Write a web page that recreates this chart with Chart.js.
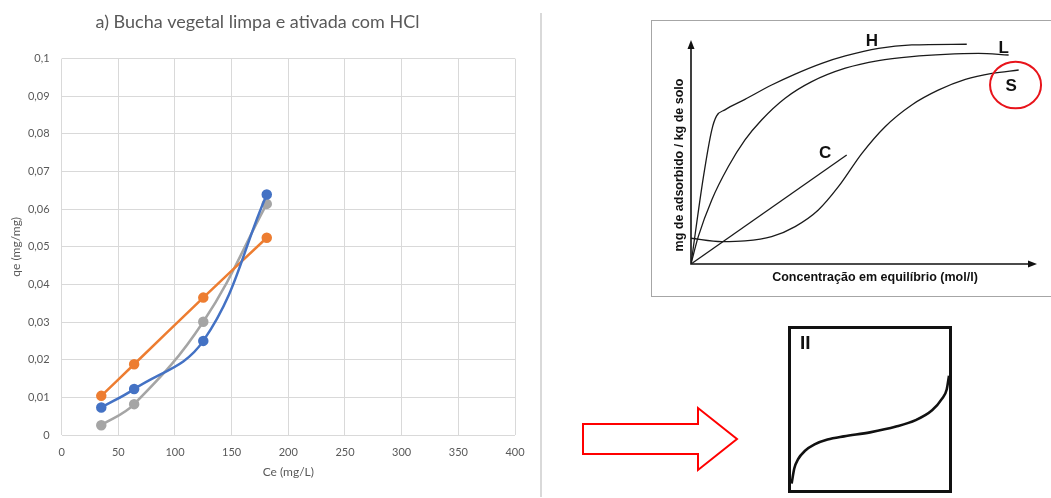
<!DOCTYPE html>
<html>
<head>
<meta charset="utf-8">
<script src="https://cdn.jsdelivr.net/npm/chart.js@4.4.1/dist/chart.umd.min.js"></script>
<style>
  body { margin: 0; background: #fff; }
  #page { position: relative; width: 1051px; height: 498px; overflow: hidden; }
  .box { position: absolute; }
  #main { left: 0; top: 0; width: 540px; height: 498px; }
  #sep { left: 540px; top: 13px; width: 2px; height: 484px; background: #d9d9d9; }
  #iso { left: 651px; top: 20px; width: 400px; height: 275px; border: 1px solid #a6a6a6; border-right: none; }
  #inset { left: 788px; top: 326px; width: 158px; height: 161px; border: 3px solid #111; }
  #arrow { left: 0; top: 0; }
</style>
</head>
<body>
<div id="page">
  <div class="box" id="main"><canvas id="qeChart"></canvas></div>
  <div class="box" id="sep"></div>
  <div class="box" id="iso"><canvas id="isoChart"></canvas></div>
  <svg class="box" id="arrow" width="1051" height="498">
    <polygon points="583,424 698,424 698,408 737,439 698,470 698,454 583,454"
             fill="#fff" stroke="#ff0000" stroke-width="2" />
  </svg>
  <div class="box" id="inset"><canvas id="insetChart"></canvas></div>
</div>
<script>
// a) Bucha vegetal limpa e ativada com HCl
const ceValues = [35, 64, 125, 181]
const qeBlue = [0.0073, 0.0122, 0.0250, 0.0639]
const qeOrange = [0.0104, 0.0188, 0.0365, 0.0524]
const qeGray = [0.0026, 0.0082, 0.0301, 0.0614]
const xTicks = ['0', '50', '100', '150', '200', '250', '300', '350', '400']
const yTicks = ['0', '0,01', '0,02', '0,03', '0,04', '0,05', '0,06', '0,07', '0,08', '0,09', '0,1']

// isotherm sketch (H, L, C, S), axes 0..100
const curveH_x = [0, 3.6, 6.0, 7.4, 9.8, 15.6, 23.3, 30.1, 37.8, 44.6, 54.2, 63.8, 79.7]
const curveH_y = [0, 39.0, 59.8, 66.1, 68.8, 73.5, 79.9, 84.8, 89.6, 92.9, 96.3, 97.8, 98.1]
const curveL_x = [0, 2.1, 6.0, 10.8, 15.6, 20.4, 27.2, 34.9, 44.6, 54.2, 63.8, 73.5, 83.1, 91.8]
const curveL_y = [0, 12.2, 28.6, 43.5, 55.4, 64.3, 74.0, 81.4, 87.4, 90.8, 92.6, 93.6, 94.0, 93.3]
const curveS_x = [0, 8.9, 15.6, 23.3, 30.1, 36.8, 42.6, 49.4, 56.1, 63.8, 71.6, 79.3, 87.0, 94.7]
const curveS_y = [11.5, 10.0, 10.3, 12.2, 16.7, 24.1, 34.5, 49.4, 61.3, 71.0, 77.7, 82.4, 85.1, 86.6]
const curveC_x = [0, 45.0]
const curveC_y = [0, 48.7]
const curveLabels = ['H', 'L', 'C', 'S']
const curveLabelX = [52.3, 90.4, 38.8, 92.5]
const curveLabelY = [99.3, 96.3, 49.4, 79.5]

// inset "II"
const insetX = [0.4, 2.1, 4.5, 8.7, 14.9, 23.1, 33.5, 50, 66.5, 78.9, 89.3, 95.5, 98.6, 100]
const insetY = [4.0, 13.5, 19.2, 24.2, 28.3, 31.3, 33.3, 35.8, 39.4, 43.4, 49.5, 56.6, 62.6, 71.0]

function toPoints(xs, ys) {
  return xs.map((x, i) => ({ x, y: ys[i] }))
}

function series(ys, color) {
  return {
    data: toPoints(ceValues, ys),
    borderColor: color,
    backgroundColor: color,
    borderWidth: 2.5,
    pointRadius: 4,
    pointHoverRadius: 4,
    showLine: true,
    tension: 0.4
  }
}

const gray = '#595959'

new Chart(document.getElementById('qeChart'), {
  type: 'scatter',
  data: {
    datasets: [series(qeBlue, '#4472c4'), series(qeOrange, '#ed7d31'), series(qeGray, '#a5a5a5')]
  },
  options: {
    responsive: true,
    maintainAspectRatio: false,
    animation: false,
    layout: { padding: { left: 0, right: 25, top: 0, bottom: 0 } },
    plugins: {
      legend: { display: false },
      tooltip: { enabled: false },
      title: {
        display: true,
        text: 'a) Bucha vegetal limpa e ativada com HCl',
        color: gray,
        font: { family: 'Lato', size: 18, weight: 'normal' },
        padding: { top: 11, bottom: 26 }
      }
    },
    scales: {
      x: {
        type: 'linear',
        min: 0,
        max: 400,
        ticks: {
          stepSize: 50,
          color: gray,
          padding: 11,
          font: { family: 'Lato', size: 11 },
          callback: (v, i) => xTicks[i]
        },
        grid: { color: '#d9d9d9', drawTicks: false },
        border: { display: false },
        title: {
          display: true,
          text: 'Ce (mg/L)',
          color: gray,
          font: { family: 'Lato', size: 12 },
          padding: { top: 4, bottom: 19 }
        },
        afterFit: s => { s.height = 63 }
      },
      y: {
        min: 0,
        max: 0.1,
        ticks: {
          stepSize: 0.01,
          color: gray,
          padding: 12,
          font: { family: 'Lato', size: 11 },
          callback: (v, i) => yTicks[i]
        },
        grid: { color: '#d9d9d9', drawTicks: false },
        border: { display: false },
        title: {
          display: true,
          text: 'qe (mg/mg)',
          color: gray,
          font: { family: 'Lato', size: 12 },
          padding: { top: 9 }
        },
        afterFit: s => { s.width = 61.6 }
      }
    }
  }
})

const axisArrows = {
  id: 'axisArrows',
  beforeDatasetsDraw(chart) {
    const { ctx, chartArea: a } = chart
    ctx.save()
    ctx.strokeStyle = '#111'
    ctx.fillStyle = '#111'
    ctx.lineWidth = 1.6
    ctx.beginPath()
    ctx.moveTo(a.left, a.top + 6)
    ctx.lineTo(a.left, a.bottom)
    ctx.lineTo(a.right - 6, a.bottom)
    ctx.stroke()
    ctx.beginPath()
    ctx.moveTo(a.left, a.top)
    ctx.lineTo(a.left - 3.5, a.top + 9)
    ctx.lineTo(a.left + 3.5, a.top + 9)
    ctx.fill()
    ctx.beginPath()
    ctx.moveTo(a.right, a.bottom)
    ctx.lineTo(a.right - 9, a.bottom - 3.5)
    ctx.lineTo(a.right - 9, a.bottom + 3.5)
    ctx.fill()

    ctx.font = 'bold 12.5px "Liberation Sans", Arial, sans-serif'
    ctx.textAlign = 'center'
    ctx.textBaseline = 'middle'
    ctx.fillText('Concentração em equilíbrio (mol/l)', a.left + 184, a.bottom + 14)
    ctx.translate(a.left - 11, (a.top + a.bottom) / 2 + 13)
    ctx.rotate(-Math.PI / 2)
    ctx.fillText('mg de adsorbido / kg de solo', 0, 0)
    ctx.restore()
  },
  afterDraw(chart) {
    const { ctx, scales } = chart
    ctx.save()
    ctx.fillStyle = '#111'
    ctx.font = 'bold 17px "Liberation Sans", Arial, sans-serif'
    ctx.textAlign = 'center'
    ctx.textBaseline = 'middle'
    curveLabels.forEach((t, i) => {
      ctx.fillText(t, scales.x.getPixelForValue(curveLabelX[i]), scales.y.getPixelForValue(curveLabelY[i]))
    })
    // red circle round the S curve
    const sx = scales.x.getPixelForValue(93.8)
    const sy = scales.y.getPixelForValue(79.9)
    ctx.strokeStyle = '#e8141b'
    ctx.lineWidth = 2
    ctx.beginPath()
    ctx.ellipse(sx, sy, 25.5, 23.3, 0, 0, Math.PI * 2)
    ctx.stroke()
    ctx.restore()
  }
}

function sketchLine(xs, ys) {
  return {
    data: toPoints(xs, ys),
    borderColor: '#1a1a1a',
    borderWidth: 1.3,
    pointRadius: 0,
    showLine: true,
    cubicInterpolationMode: 'monotone'
  }
}

new Chart(document.getElementById('isoChart'), {
  type: 'scatter',
  data: {
    datasets: [
      sketchLine(curveH_x, curveH_y),
      sketchLine(curveL_x, curveL_y),
      sketchLine(curveS_x, curveS_y),
      sketchLine(curveC_x, curveC_y)
    ]
  },
  options: {
    responsive: true,
    maintainAspectRatio: false,
    animation: false,
    layout: { padding: { left: 39, top: 19, right: 15, bottom: 32 } },
    plugins: { legend: { display: false }, tooltip: { enabled: false } },
    scales: {
      x: { type: 'linear', min: 0, max: 100, display: false },
      y: { min: 0, max: 100, display: false }
    }
  },
  plugins: [axisArrows]
})

const insetLabel = {
  id: 'insetLabel',
  afterDraw(chart) {
    const { ctx, scales } = chart
    ctx.save()
    ctx.fillStyle = '#111'
    ctx.font = 'bold 19px "Liberation Sans", Arial, sans-serif'
    ctx.textAlign = 'center'
    ctx.textBaseline = 'middle'
    ctx.fillText('II', scales.x.getPixelForValue(9), scales.y.getPixelForValue(91))
    ctx.restore()
  }
}

new Chart(document.getElementById('insetChart'), {
  type: 'scatter',
  data: {
    datasets: [{
      data: toPoints(insetX, insetY),
      borderColor: '#111',
      borderWidth: 2.6,
      pointRadius: 0,
      showLine: true,
      clip: false,
      cubicInterpolationMode: 'monotone'
    }]
  },
  options: {
    responsive: true,
    maintainAspectRatio: false,
    animation: false,
    layout: { padding: 0 },
    plugins: { legend: { display: false }, tooltip: { enabled: false } },
    scales: {
      x: { type: 'linear', min: 0, max: 100, display: false },
      y: { min: 0, max: 100, display: false }
    }
  },
  plugins: [insetLabel]
})
</script>
</body>
</html>
